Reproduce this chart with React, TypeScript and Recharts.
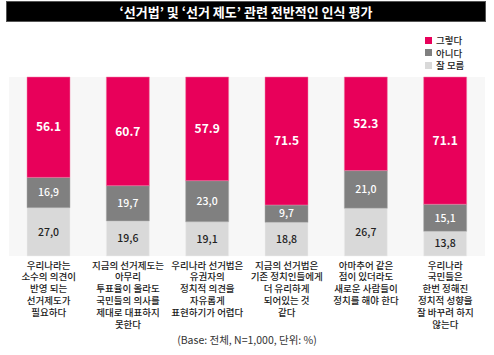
import { BarChart, Bar, XAxis, YAxis, CartesianGrid, LabelList } from 'recharts';

const categories = [
  '우리나라는\n소수의 의견이\n반영 되는\n선거제도가\n필요하다',
  '지금의 선거제도는\n아무리\n투표율이 올라도\n국민들의 의사를\n제대로 대표하지\n못한다',
  '우리나라 선거법은\n유권자의\n정치적 의견을\n자유롭게\n표현하기가 어렵다',
  '지금의 선거법은\n기존 정치인들에게\n더 유리하게\n되어있는 것\n같다',
  '아마추어 같은\n점이 있더라도\n새로운 사람들이\n정치를 해야 한다',
  '우리나라\n국민들은\n한번 정해진\n정치적 성향을\n잘 바꾸려 하지\n않는다',
];
const yes = [56.1, 60.7, 57.9, 71.5, 52.3, 71.1];
const no = [16.9, 19.7, 23.0, 9.7, 21.0, 15.1];
const dontKnow = [27.0, 19.6, 19.1, 18.8, 26.7, 13.8];

const FONT = '"Noto Sans CJK KR", "Noto Sans", sans-serif';
const PINK = '#e8005a';
const GRAY = '#808080';
const LIGHT = '#d9d9d9';

const data = categories.map((name, i) => ({
  name,
  yes: yes[i],
  no: no[i],
  dontKnow: dontKnow[i],
}));

const dot = (v: any) => Number(v).toFixed(1);
const comma = (v: any) => Number(v).toFixed(1).replace('.', ',');

const CategoryTick = (props: any) => {
  const { x, y, payload } = props;
  const lines = String(payload.value).split('\n');
  return (
    <text x={x} y={y} textAnchor="middle" fontFamily={FONT} fontSize={9.5} fontWeight={500} fill="#1a1a1a">
      {lines.map((l, i) => (
        <tspan key={i} x={x} dy={i === 0 ? 6.5 : 11.8}>
          {l}
        </tspan>
      ))}
    </text>
  );
};

const legendItems = [
  { label: '그렇다', color: PINK },
  { label: '아니다', color: GRAY },
  { label: '잘 모름', color: LIGHT },
];

export default function App() {
  return (
    <div style={{ position: 'absolute', left: 0, top: 0, width: 494, height: 355, background: '#fff' }}>
      <div
        style={{
          position: 'absolute',
          left: 6,
          top: 1,
          width: 478,
          height: 19,
          border: '1px solid #555',
          background: '#000',
          color: '#fff',
          fontFamily: FONT,
          fontWeight: 700,
          fontSize: 13,
          lineHeight: '19px',
          textAlign: 'center',
        }}
      >
        ‘선거법’ 및 ‘선거 제도’ 관련 전반적인 인식 평가
      </div>
      <div
        style={{
          position: 'absolute',
          left: 425,
          top: 34,
          fontFamily: FONT,
          fontSize: 9.5,
          fontWeight: 500,
          color: '#222',
        }}
      >
        {legendItems.map((it) => (
          <div key={it.label} style={{ display: 'flex', alignItems: 'center', height: 12.5 }}>
            <span style={{ width: 7, height: 7, background: it.color, display: 'inline-block', marginRight: 4 }} />
            {it.label}
          </div>
        ))}
      </div>
      <BarChart
        width={494}
        height={355}
        data={data}
        margin={{ top: 77, right: 9, bottom: 0, left: 9 }}
        barSize={43}
      >
        <CartesianGrid fill="#f7f7f7" horizontal={false} vertical={false} />
        <XAxis
          dataKey="name"
          axisLine={false}
          tickLine={false}
          interval={0}
          tick={<CategoryTick />}
          tickMargin={0}
          height={99}
        />
        <YAxis hide domain={[0, 100]} />
        <Bar dataKey="dontKnow" stackId="a" fill={LIGHT} stroke="#eee" strokeWidth={0.5} isAnimationActive={false}>
          <LabelList dataKey="dontKnow" position="center" formatter={comma} fill="#222" fontSize={10.5} fontFamily={FONT} fontWeight={500} />
        </Bar>
        <Bar dataKey="no" stackId="a" fill={GRAY} stroke="#aaa" strokeWidth={0.5} isAnimationActive={false}>
          <LabelList dataKey="no" position="center" formatter={comma} fill="#fff" fontSize={10.5} fontFamily={FONT} fontWeight={500} />
        </Bar>
        <Bar dataKey="yes" stackId="a" fill={PINK} stroke="#f080a8" strokeWidth={0.5} isAnimationActive={false}>
          <LabelList dataKey="yes" position="center" formatter={dot} fill="#fff" fontSize={12} fontFamily={FONT} fontWeight={700} />
        </Bar>
      </BarChart>
      <div
        style={{
          position: 'absolute',
          left: 0,
          width: 494,
          top: 332,
          textAlign: 'center',
          fontFamily: FONT,
          fontSize: 10.5,
          color: '#333',
        }}
      >
        (Base: 전체, N=1,000, 단위: %)
      </div>
    </div>
  );
}
